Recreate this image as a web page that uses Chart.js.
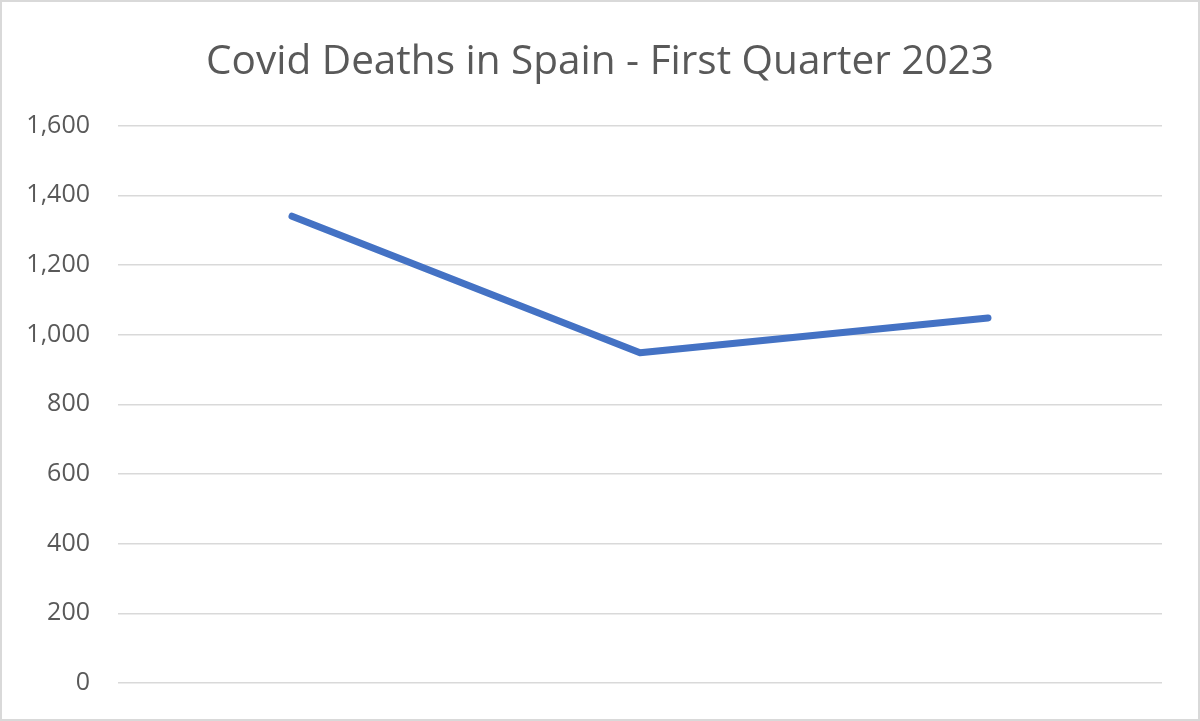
<!DOCTYPE html>
<html>
<head>
<meta charset="utf-8">
<script src="https://cdn.jsdelivr.net/npm/chart.js"></script>
<style>
  html, body { margin: 0; padding: 0; background: #fff; }
  #wrap {
    width: 1200px; height: 721px; box-sizing: border-box;
    border: 2px solid #d9d9d9; background: #fff;
  }
  #wrap canvas { display: block; }
</style>
</head>
<body>
<div id="wrap"><canvas id="myChart" width="1196" height="717"></canvas></div>
<script>
// Data
const months = ['January', 'February', 'March'];
const deaths = [1340, 948, 1048];
const yTicks = [0, 200, 400, 600, 800, 1000, 1200, 1400, 1600];

const textColor = '#595959';

var ctx = document.getElementById('myChart').getContext('2d');
var myChart = new Chart(ctx, {
    type: 'line',
    data: {
        labels: months,
        datasets: [{
            label: 'Deaths',
            data: deaths,
            borderColor: '#4472C4',
            backgroundColor: '#4472C4',
            borderWidth: 7,
            borderCapStyle: 'round',
            borderJoinStyle: 'round',
            pointRadius: 0,
            pointHoverRadius: 0,
            tension: 0
        }]
    },
    options: {
        responsive: false,
        animation: false,
        layout: { padding: { left: 0, right: 0, top: 0, bottom: 36 } },
        plugins: {
            legend: { display: false },
            tooltip: { enabled: false },
            title: {
                display: true,
                text: 'Covid Deaths in Spain - First Quarter 2023',
                color: textColor,
                font: { family: 'Open Sans', size: 40.5, weight: 'normal' },
                padding: { top: 36, bottom: 39 }
            }
        },
        scales: {
            x: {
                offset: true,
                grid: { display: false },
                border: { display: false },
                ticks: { display: false },
                afterFit: (scale) => { scale.height = 0; }
            },
            y: {
                min: 0,
                max: 1600,
                afterBuildTicks: (scale) => {
                    scale.ticks = yTicks.map(v => ({ value: v }));
                },
                grid: { color: '#d9d9d9', lineWidth: 1.5, drawTicks: false },
                border: { display: false },
                ticks: {
                    color: textColor,
                    padding: 28,
                    font: { family: 'Open Sans', size: 25 },
                    callback: (v) => v.toLocaleString('en-US')
                },
                afterFit: (scale) => {
                    scale.width = 116;
                    // tick padding should not push the plot area up from the bottom
                    scale.paddingBottom = 0;
                }
            },
            // empty right margin so the title stays centred on the whole canvas
            yRight: {
                position: 'right',
                grid: { display: false },
                border: { display: false },
                ticks: { display: false },
                afterFit: (scale) => { scale.width = 36; }
            }
        }
    }
});
</script>
</body>
</html>
